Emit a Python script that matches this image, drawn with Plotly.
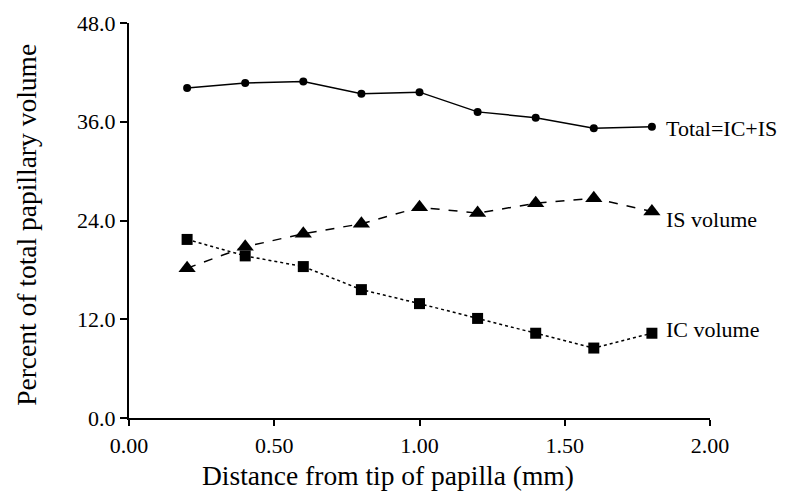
import plotly.graph_objects as go

distance = [0.2, 0.4, 0.6, 0.8, 1.0, 1.2, 1.4, 1.6, 1.8]
total_vol = [40.1, 40.7, 40.9, 39.4, 39.6, 37.2, 36.5, 35.2, 35.4]
is_vol = [18.2, 20.8, 22.4, 23.6, 25.6, 24.9, 26.1, 26.7, 25.1]
ic_vol = [21.7, 19.7, 18.4, 15.6, 13.9, 12.1, 10.3, 8.5, 10.3]
series_labels = ["Total=IC+IS", "IS volume", "IC volume"]
x_ticks = [0.0, 0.5, 1.0, 1.5, 2.0]
y_ticks = [0.0, 12.0, 24.0, 36.0, 48.0]
x_title = "Distance from tip of papilla (mm)"
y_title = "Percent of total papillary volume"

FONT = "Liberation Serif, Times New Roman, serif"

fig = go.Figure()
fig.add_trace(go.Scatter(x=distance, y=total_vol, mode="lines+markers",
                         line=dict(color="black", width=1.5, dash="solid"),
                         marker=dict(symbol="circle", size=8, color="black"),
                         name=series_labels[0]))
fig.add_trace(go.Scatter(x=distance, y=is_vol, mode="lines+markers",
                         line=dict(color="black", width=1.5, dash="dash"),
                         marker=dict(symbol="triangle-up", size=15, color="black"),
                         name=series_labels[1]))
fig.add_trace(go.Scatter(x=distance, y=ic_vol, mode="lines+markers",
                         line=dict(color="black", width=1.5, dash="dot"),
                         marker=dict(symbol="square", size=11, color="black"),
                         name=series_labels[2]))

shifts = [(12, -2), (12, -8), (12, 4)]
for ys, lab, (dx, dy) in zip([total_vol, is_vol, ic_vol], series_labels, shifts):
    fig.add_annotation(x=distance[-1], y=ys[-1], xref="x", yref="y", text=lab,
                       showarrow=False, xanchor="left", yanchor="middle",
                       xshift=dx, yshift=dy,
                       font=dict(family=FONT, size=22, color="black"))

# axis titles
fig.add_annotation(x=0.445, y=0, xref="paper", yref="paper", text=x_title,
                   showarrow=False, xanchor="center", yanchor="middle", yshift=-57,
                   font=dict(family=FONT, size=27.5, color="black"))
fig.add_annotation(x=0, y=0.489, xref="paper", yref="paper", text=y_title,
                   showarrow=False, xanchor="center", yanchor="middle", xshift=-102,
                   textangle=-90,
                   font=dict(family=FONT, size=27.5, color="black"))

fig.update_layout(
    width=787, height=487,
    margin=dict(l=121, r=85, t=15, b=77),
    plot_bgcolor="white", paper_bgcolor="white",
    showlegend=False,
    font=dict(family=FONT, color="black"),
)
fig.update_xaxes(range=[0, 2], tickvals=x_ticks, ticktext=[f"{v:.2f}" for v in x_ticks],
                 automargin=False,
                 showgrid=False, zeroline=False, showline=True, linecolor="black", linewidth=2,
                 ticks="outside", ticklen=6, tickcolor="black", tickwidth=1.5,
                 ticklabelstandoff=1,
                 tickfont=dict(family=FONT, size=22, color="black"))
fig.update_yaxes(range=[0, 48], tickvals=y_ticks, ticktext=[f"{v:.1f}" for v in y_ticks],
                 automargin=False,
                 showgrid=False, zeroline=False, showline=True, linecolor="black", linewidth=2,
                 ticks="outside", ticklen=7, tickcolor="black", tickwidth=1.5,
                 tickfont=dict(family=FONT, size=22, color="black"))

fig.write_html("out.html")
